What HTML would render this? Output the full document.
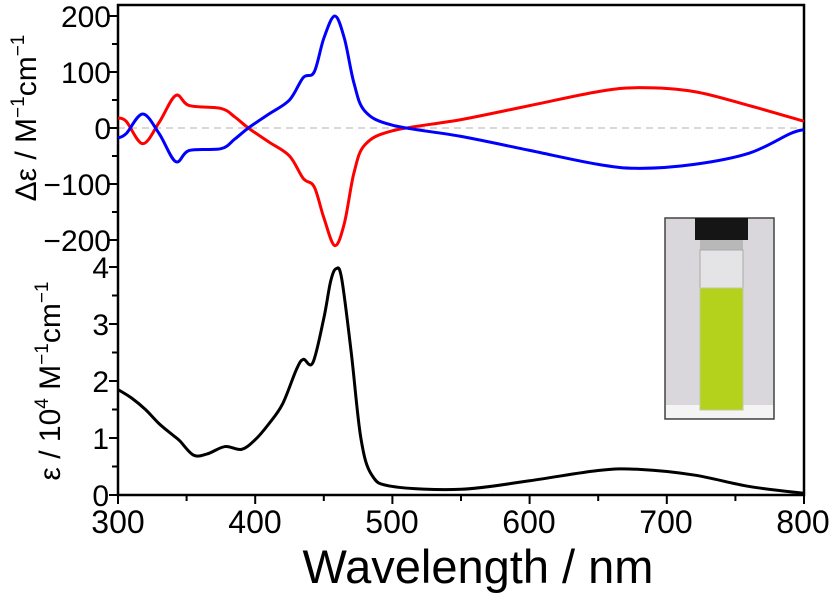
<!DOCTYPE html>
<html><head><meta charset="utf-8"><style>
html,body{margin:0;padding:0;background:#fff;}
svg{display:block;font-family:"Liberation Sans",Arial,sans-serif;}
</style></head><body>
<svg id="s" width="833" height="600" viewBox="0 0 833 600">
<line x1="118" y1="128" x2="804" y2="128" stroke="#ccc" stroke-width="1.5" stroke-dasharray="7,5"/>
<rect x="118" y="5" width="686" height="490" fill="none" stroke="#000" stroke-width="2.5"/>
<g id="ticks" stroke="#000" stroke-width="2"></g>
<g font-size="30" fill="#000" text-anchor="end">
<text x="111" y="27">200</text><text x="111" y="83">100</text><text x="111" y="139">0</text>
<text x="111" y="195">−100</text><text x="111" y="251">−200</text>
<text x="109" y="278">4</text><text x="109" y="335">3</text><text x="109" y="392">2</text>
<text x="109" y="449">1</text><text x="109" y="506">0</text>
</g>
<g font-size="32" fill="#000" text-anchor="middle">
<text x="118" y="533">300</text><text x="255" y="533">400</text><text x="392" y="533">500</text>
<text x="529" y="533">600</text><text x="666" y="533">700</text><text x="803" y="533">800</text>
</g>
<text x="478" y="583" font-size="47" text-anchor="middle">Wavelength / nm</text>
<text transform="translate(36,118) rotate(-90)" font-size="30" text-anchor="middle">Δε / M<tspan font-size="19" dy="-12">−1</tspan><tspan dy="12">cm</tspan><tspan font-size="19" dy="-12">−1</tspan></text>
<text transform="translate(60,381) rotate(-90)" font-size="30" text-anchor="middle">ε / 10<tspan font-size="19" dy="-12">4</tspan><tspan dy="12"> M</tspan><tspan font-size="19" dy="-12">−1</tspan><tspan dy="12">cm</tspan><tspan font-size="19" dy="-12">−1</tspan></text>
<g>
<rect x="665" y="218" width="109" height="201" fill="#d9d7dc" stroke="#444" stroke-width="1.5"/>
<rect x="666" y="405" width="107" height="13" fill="#f4f4f4"/>
<rect x="695" y="218" width="53" height="22" fill="#151515"/>
<rect x="700" y="240" width="43" height="10" fill="#b8b8b8"/>
<rect x="700" y="250" width="43" height="40" fill="#e4e4e6" stroke="#aaa" stroke-width="1"/>
<rect x="700" y="288" width="43" height="122" fill="#b4d21c" stroke="#c0c8a0" stroke-width="1"/>
</g>
<path id="red" fill="none" stroke="#f00" stroke-width="3"/>
<path id="blue" fill="none" stroke="#00f" stroke-width="3"/>
<path id="blk" fill="none" stroke="#000" stroke-width="3"/>
</svg>
<script>
function X(n){return 118+(n-300)*1.372;}
function path(pts,fy){
 var p=pts.map(function(a){return [X(a[0]),fy(a[1])];});
 var d="M"+p[0][0]+","+p[0][1];
 for(var i=0;i<p.length-1;i++){
  var p0=p[i-1]||p[i],p1=p[i],p2=p[i+1],p3=p[i+2]||p2;
  var c1=[p1[0]+(p2[0]-p0[0])/6,p1[1]+(p2[1]-p0[1])/6];
  var c2=[p2[0]-(p3[0]-p1[0])/6,p2[1]-(p3[1]-p1[1])/6];
  d+=" C"+c1+" "+c2+" "+p2;
 }
 return d;
}
var cd=function(v){return 128-v*0.56;};
var ab=function(v){return 495-v*57;};
var red=[[300,18],[306,12],[318,-28],[330,10],[342,58],[352,40],[375,35],[385,20],[395,0],[410,-25],[425,-50],[435,-90],[443,-105],[450,-160],[458,-210],[465,-170],[472,-80],[480,-30],[500,-5],[550,15],[600,40],[650,65],[680,72],[720,65],[760,40],[800,12]];
var blue=[[300,-18],[306,-10],[318,25],[330,-10],[342,-60],[352,-40],[375,-37],[385,-20],[395,0],[410,25],[425,50],[435,90],[443,100],[450,160],[458,200],[465,160],[472,80],[480,30],[500,5],[550,-15],[600,-40],[650,-65],[680,-72],[720,-65],[760,-45],[790,-10],[800,-3]];
var blk=[[300,1.85],[310,1.7],[320,1.5],[330,1.25],[340,1.05],[345,0.95],[355,0.7],[365,0.72],[378,0.85],[390,0.8],[400,0.97],[410,1.25],[420,1.6],[430,2.2],[435,2.38],[442,2.32],[450,3.1],[455,3.75],[459,3.97],[463,3.8],[470,2.5],[477,1.0],[485,0.35],[500,0.15],[550,0.1],[600,0.25],[650,0.43],[680,0.45],[720,0.35],[760,0.15],[800,0.03]];
document.getElementById("red").setAttribute("d",path(red,cd));
document.getElementById("blue").setAttribute("d",path(blue,cd));
document.getElementById("blk").setAttribute("d",path(blk,ab));
var t="";
for(var n=300;n<=800;n+=50){var x=X(n),l=(n%100==0)?9:6;t+='<line x1="'+x+'" y1="495" x2="'+x+'" y2="'+(495+l)+'"/>';}
for(var v=-200;v<=200;v+=50){var y=cd(v),l=(v%100==0)?9:6;t+='<line x1="118" y1="'+y+'" x2="'+(118-l)+'" y2="'+y+'"/>';}
for(var v=0;v<=4;v+=0.5){var y=ab(v),l=(v%1==0)?9:6;t+='<line x1="118" y1="'+y+'" x2="'+(118-l)+'" y2="'+y+'"/>';}
document.getElementById("ticks").innerHTML=t;
</script>
</body></html>
